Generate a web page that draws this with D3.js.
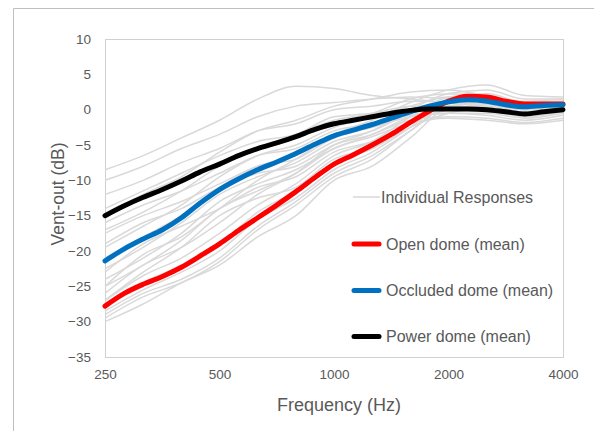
<!DOCTYPE html>
<html>
<head>
<meta charset="utf-8">
<script src="https://cdn.jsdelivr.net/npm/d3@7"></script>
<style>
  html, body { margin: 0; padding: 0; background: #fff; }
  text { font-family: "Liberation Sans", Arial, sans-serif; fill: #595959; }
</style>
</head>
<body>
<div id="chart"></div>
<script>
// Frequencies (Hz), 1/6 octave for the means, 1/3 octave for individuals
const freqs = [250, 281, 315, 354, 397, 445, 500, 561, 630, 707, 794, 891,
  1000, 1122, 1260, 1414, 1587, 1782, 2000, 2245, 2520, 2828, 3175, 3564, 4000];
const freqsThird = [250, 315, 397, 500, 630, 794, 1000, 1260, 1587, 2000, 2520, 3175, 4000];

const openMean = [-27.8, -26.0, -24.7, -23.6, -22.3, -20.7, -19.0, -17.1, -15.3, -13.5, -11.6, -9.6,
  -7.7, -6.4, -5.0, -3.5, -1.8, -0.2, 1.2, 1.9, 1.8, 1.2, 0.8, 0.8, 0.8];
const occludedMean = [-21.4, -19.7, -18.3, -17.0, -15.3, -13.2, -11.3, -9.8, -8.5, -7.4, -6.2, -4.9,
  -3.7, -2.9, -2.1, -1.2, -0.3, 0.5, 1.1, 1.4, 1.2, 0.7, 0.4, 0.6, 0.7];
const powerMean = [-15.0, -13.6, -12.4, -11.3, -10.1, -8.8, -7.7, -6.5, -5.5, -4.7, -3.8, -2.8,
  -2.0, -1.5, -1.0, -0.5, -0.1, 0.1, 0.1, 0.1, 0.0, -0.3, -0.6, -0.3, 0.0];

// Individual responses (1/3 octave)
const individuals = [
  [-8.5, -6.5, -4.0, -1.5, 1.5, 3.3, 3.0, 2.0, 1.5, 1.0, 0.5, -0.5, 0.5],
  [-10, -8, -5.5, -3.5, -1.0, 0.5, 1.0, 1.5, 1.8, 1.5, 0.8, 0.0, 1.0],
  [-12, -10, -7.5, -5.5, -3, -2, 0, 0.5, 1.2, 1.0, 0.3, -0.5, 0.3],
  [-14, -11.5, -9.0, -6.5, -4.5, -3.5, -1.0, -0.5, 0.5, 0.5, 0, -1.0, -0.3],
  [-16, -13.5, -11.5, -9, -6.5, -5.5, -3, -2, -0.8, -0.5, -0.8, -1.5, -0.8],
  [-17.5, -15, -13, -10.5, -8, -7, -4, -2.5, -1, -0.5, -0.5, -1.2, -0.5],
  [-19, -16, -14, -11, -9, -8, -5, -3.5, -1.5, -1.0, -1.2, -1.8, -1.2],
  [-23, -19, -16.5, -14, -11, -9.5, -6, -4.5, -2, -1.2, -1.5, -2.0, -1.5],
  [-15, -12, -9.5, -6, -3, -1.5, 0.5, 1.5, 2.5, 2.8, 2.0, 1.2, 1.5],
  [-17, -14.5, -11.5, -8, -5.5, -3.5, -1.5, -0.5, 1.5, 2.2, 2.0, 1.0, 1.2],
  [-19.5, -16.5, -13.5, -9.5, -6.5, -5, -2.5, -1, 0.5, 1.8, 1.8, 1.0, 1.0],
  [-21, -18, -15, -11, -8, -6.5, -3.5, -2, 0, 1.3, 1.5, 0.5, 0.8],
  [-22.5, -19.5, -16, -12, -9.5, -7.5, -4.5, -3, -0.5, 0.8, 1.0, 0.2, 0.5],
  [-24, -21, -17.5, -13, -10.5, -8.5, -5.5, -3.5, -1, 0.5, 0.8, 0, 0.3],
  [-25, -22, -18.5, -14, -11.5, -9, -5.5, -3.8, -1.8, 0, 0.5, -0.3, 0.2],
  [-27, -23, -19.5, -15, -12.5, -11, -7, -5.5, -2.5, -0.5, 0.2, -0.4, 0.1],
  [-25, -20.5, -18, -14, -10, -7, -3.5, -1.5, 1, 2.8, 3.5, 2, 1.8],
  [-26, -22, -19.5, -16, -12, -9, -5, -3, 0, 2.3, 2.8, 1.5, 1.5],
  [-27, -23.5, -21, -17.5, -13.5, -10.5, -6.5, -4.5, -1, 1.8, 2.3, 1.0, 1.2],
  [-27.5, -24.5, -22, -19, -14.5, -11.5, -7.5, -5.5, -1.8, 1.3, 2.0, 0.8, 0.8],
  [-28.5, -25.5, -23, -20, -15.5, -12.5, -8.5, -6, -2.5, 1.0, 1.5, 0.5, 0.6],
  [-29, -26, -24, -21, -16.5, -13, -9, -6.5, -3, 0.5, 1.0, 0.2, 0.3],
  [-29.5, -26.5, -24.5, -21.5, -17, -13.5, -9.5, -7, -3, 0.5, 1.0, 0, 0.2],
  [-30, -27.5, -24.5, -22, -18, -15, -10, -8, -4, 0.2, 0.5, -0.4, 0]
];

const xTicks = [250, 500, 1000, 2000, 4000];
const yTicks = [10, 5, 0, -5, -10, -15, -20, -25, -30, -35];

const seriesNames = ["Open dome (mean)", "Occluded dome (mean)", "Power dome (mean)"];
const seriesColors = ["#ff0000", "#0070c0", "#000000"];
const seriesData = [openMean, occludedMean, powerMean];

const width = 594, height = 431;
const margin = { left: 105, top: 39, right: 594 - 563, bottom: 431 - 357 };

const svg = d3.select("#chart").append("svg")
  .attr("width", width)
  .attr("height", height);

// Outer chart border
svg.append("path")
  .attr("d", "M13.5,440 V8.5 H600")
  .attr("fill", "none")
  .attr("stroke", "#bfbfbf")
  .attr("stroke-width", 1);

const x = d3.scaleLog().base(2)
  .domain([250, 4000])
  .range([margin.left, width - margin.right]);
const y = d3.scaleLinear()
  .domain([-35, 10])
  .range([height - margin.bottom, margin.top]);

// Plot frame
svg.append("rect")
  .attr("x", x(250) + 0.5)
  .attr("y", y(10) + 0.5)
  .attr("width", x(4000) - x(250))
  .attr("height", y(-35) - y(10))
  .attr("fill", "none")
  .attr("stroke", "#d0d0d0")
  .attr("stroke-width", 1);

// Axes (labels only)
const xAxis = svg.append("g")
  .attr("transform", `translate(0,${y(-35)})`)
  .call(d3.axisBottom(x).tickValues(xTicks).tickFormat(d3.format("d")).tickSize(0).tickPadding(12));
xAxis.select(".domain").remove();
xAxis.selectAll("text").attr("font-size", 13.5).attr("fill", "#595959")
  .attr("font-family", "Liberation Sans, Arial, sans-serif");

const yAxis = svg.append("g")
  .attr("transform", `translate(${x(250)},0)`)
  .call(d3.axisLeft(y).tickValues(yTicks).tickSize(0).tickPadding(14));
yAxis.select(".domain").remove();
yAxis.selectAll("text").attr("font-size", 13.5).attr("fill", "#595959")
  .attr("font-family", "Liberation Sans, Arial, sans-serif");

// Axis titles
svg.append("text")
  .attr("x", 339)
  .attr("y", 411)
  .attr("text-anchor", "middle")
  .attr("font-size", 18)
  .text("Frequency (Hz)");

svg.append("text")
  .attr("transform", `translate(64,194) rotate(-90)`)
  .attr("text-anchor", "middle")
  .attr("font-size", 17.5)
  .text("Vent-out (dB)");

const line = d3.line()
  .x(d => x(d[0]))
  .y(d => y(d[1]))
  .curve(d3.curveMonotoneX);

// Individual responses
svg.append("g").selectAll("path")
  .data(individuals)
  .join("path")
  .attr("d", vals => line(freqsThird.map((f, i) => [f, vals[i]])))
  .attr("fill", "none")
  .attr("stroke", "#d9d9d9")
  .attr("stroke-width", 1.5);

// Mean curves
svg.append("g").selectAll("path")
  .data(seriesData)
  .join("path")
  .attr("d", vals => line(freqs.map((f, i) => [f, vals[i]])))
  .attr("fill", "none")
  .attr("stroke", (d, i) => seriesColors[i])
  .attr("stroke-width", 5)
  .attr("stroke-linecap", "round")
  .attr("stroke-linejoin", "round");

// Legend
const legend = svg.append("g");
legend.append("line")
  .attr("x1", 353).attr("x2", 380)
  .attr("y1", 197).attr("y2", 197)
  .attr("stroke", "#d9d9d9").attr("stroke-width", 1.5);
legend.append("text")
  .attr("x", 381).attr("y", 197)
  .attr("dy", "0.35em")
  .attr("font-size", 16)
  .text("Individual Responses");

const legendY = [244, 290.5, 336.5];
seriesNames.forEach((name, i) => {
  legend.append("line")
    .attr("x1", 354).attr("x2", 379)
    .attr("y1", legendY[i]).attr("y2", legendY[i])
    .attr("stroke", seriesColors[i])
    .attr("stroke-width", 5)
    .attr("stroke-linecap", "round");
  legend.append("text")
    .attr("x", 386).attr("y", legendY[i])
    .attr("dy", "0.35em")
    .attr("font-size", 16)
    .text(name);
});
</script>
</body>
</html>
